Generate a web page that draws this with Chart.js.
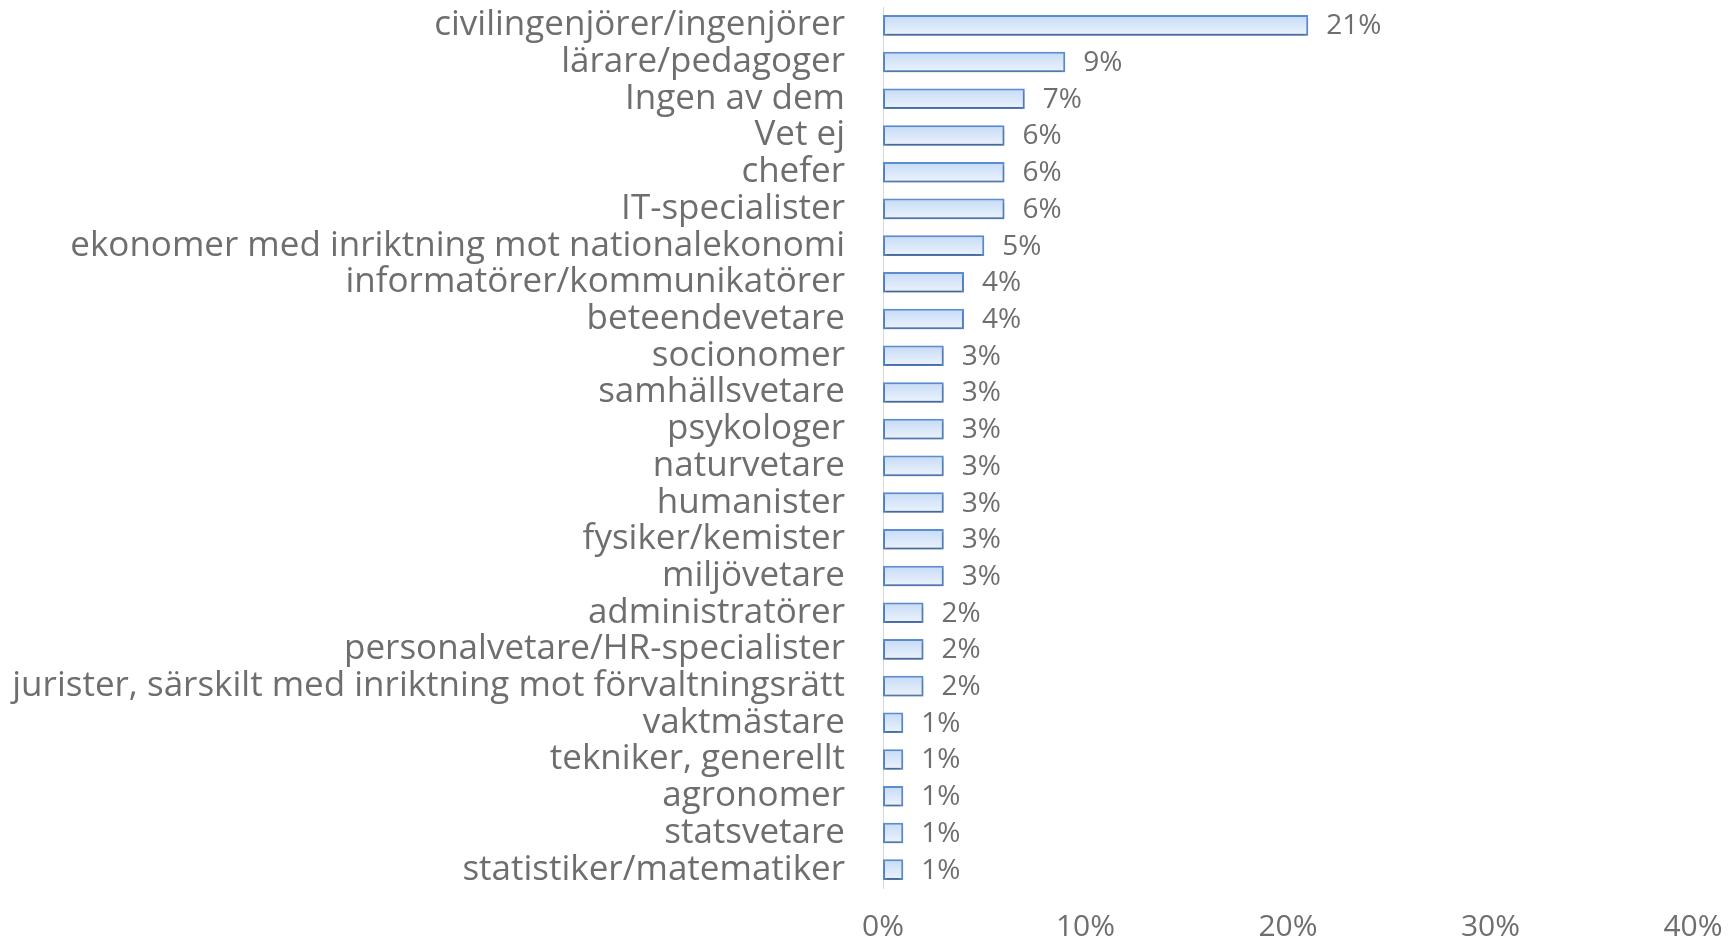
<!DOCTYPE html>
<html>
<head>
<meta charset="utf-8">
<script src="https://cdn.jsdelivr.net/npm/chart.js@4"></script>
<style>
  html, body { margin: 0; padding: 0; background: #fff; }
  #wrap { width: 1733px; height: 943px; position: relative; }
</style>
</head>
<body>
<div id="wrap"><canvas id="chart"></canvas></div>
<script>
// DATA
const categories = [
  "civilingenjörer/ingenjörer",
  "lärare/pedagoger",
  "Ingen av dem",
  "Vet ej",
  "chefer",
  "IT-specialister",
  "ekonomer med inriktning mot nationalekonomi",
  "informatörer/kommunikatörer",
  "beteendevetare",
  "socionomer",
  "samhällsvetare",
  "psykologer",
  "naturvetare",
  "humanister",
  "fysiker/kemister",
  "miljövetare",
  "administratörer",
  "personalvetare/HR-specialister",
  "jurister, särskilt med inriktning mot förvaltningsrätt",
  "vaktmästare",
  "tekniker, generellt",
  "agronomer",
  "statsvetare",
  "statistiker/matematiker"
];
const shares = [21, 9, 7, 6, 6, 6, 5, 4, 4, 3, 3, 3, 3, 3, 3, 3, 2, 2, 2, 1, 1, 1, 1, 1];
const xTicks = [0, 10, 20, 30, 40];

const FONT = "'Open Sans', sans-serif";
const GREY = '#6e6e6e';

// bar fill: light gradient per bar
function barFill(ctx) {
  const chart = ctx.chart;
  const y = chart.scales.y;
  if (!y || ctx.dataIndex === undefined) return '#d6e6fa';
  const c = y.getPixelForValue(ctx.dataIndex);
  if (!isFinite(c)) return '#d6e6fa';
  const g = chart.ctx.createLinearGradient(0, c - 10, 0, c + 10);
  g.addColorStop(0, '#c6dbf6');
  g.addColorStop(1, '#ecf3fd');
  return g;
}

// value labels at bar ends
const valueLabels = {
  id: 'valueLabels',
  afterDatasetsDraw(chart) {
    const ctx = chart.ctx;
    const meta = chart.getDatasetMeta(0);
    ctx.save();
    ctx.shadowColor = 'transparent';
    ctx.font = '28px ' + FONT;
    ctx.fillStyle = GREY;
    ctx.textBaseline = 'middle';
    ctx.textAlign = 'left';
    meta.data.forEach((bar, i) => {
      ctx.fillText(shares[i] + '%', bar.x + 18, bar.y + 1);
    });
    ctx.restore();
  }
};

// soft shadow under bars
const barShadow = {
  id: 'barShadow',
  beforeDatasetsDraw(chart) {
    const ctx = chart.ctx;
    ctx.save();
    ctx.shadowColor = 'rgba(0,0,0,0.3)';
    ctx.shadowBlur = 3;
    ctx.shadowOffsetY = 2;
  },
  afterDatasetsDraw(chart) {
    chart.ctx.restore();
  }
};

new Chart(document.getElementById('chart'), {
  type: 'bar',
  data: {
    labels: categories,
    datasets: [{
      data: shares,
      backgroundColor: barFill,
      borderColor: '#5b8dd0',
      borderWidth: 2,
      borderSkipped: false,
      categoryPercentage: 1,
      barPercentage: 0.56
    }]
  },
  options: {
    indexAxis: 'y',
    responsive: true,
    maintainAspectRatio: false,
    animation: false,
    layout: { padding: { top: 7, right: 40, left: 0, bottom: 0 } },
    plugins: {
      legend: { display: false },
      tooltip: { enabled: false }
    },
    scales: {
      x: {
        min: 0,
        max: 40,
        afterBuildTicks: s => { s.ticks = xTicks.map(v => ({ value: v })); },
        grid: { display: false, drawTicks: false },
        border: { display: false },
        ticks: {
          color: GREY,
          font: { family: FONT, size: 30 },
          padding: 21,
          callback: v => v + '%'
        },
        afterFit: s => { s.height = 55; s.paddingLeft = 0; s.paddingRight = 0; }
      },
      y: {
        grid: { display: false, drawTicks: false },
        border: { display: true, color: '#d9d9d9', width: 1 },
        ticks: {
          color: GREY,
          font: { family: FONT, size: 35 },
          padding: 38,
          autoSkip: false
        },
        afterFit: s => { s.width = 883; s.paddingTop = 0; s.paddingBottom = 0; }
      }
    }
  },
  plugins: [barShadow, valueLabels]
});
</script>
</body>
</html>
